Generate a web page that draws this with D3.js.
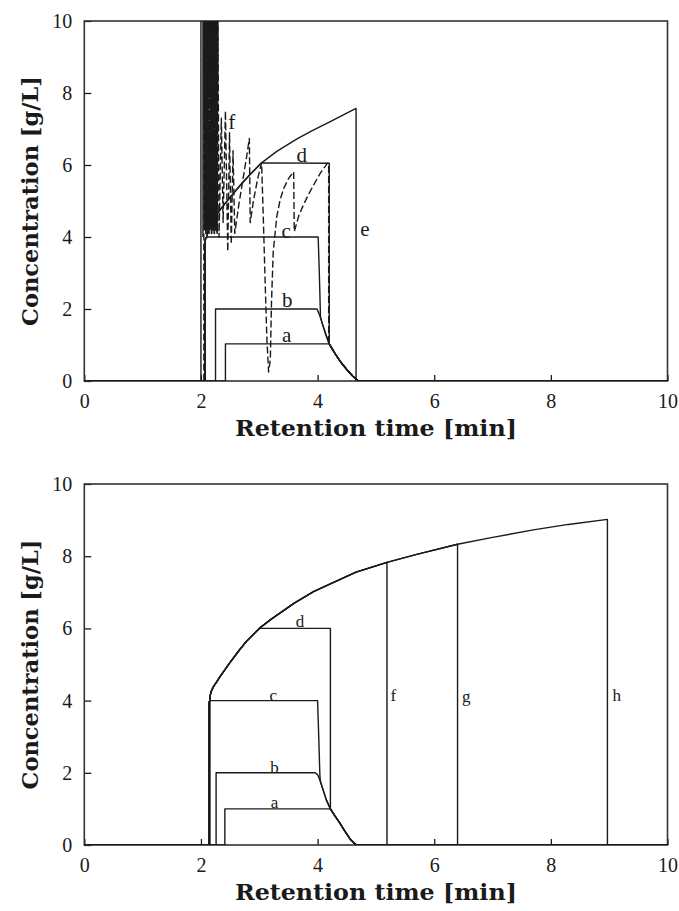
<!DOCTYPE html>
<html><head><meta charset="utf-8">
<script src="https://cdn.jsdelivr.net/npm/d3@7"></script>
<style>body{margin:0;background:#fff}svg{display:block}</style>
</head><body>
<svg id="chart" width="679" height="911"></svg>
<script>
// ---------- data (retention time [min], concentration [g/L]) ----------
const xTicks = [0, 2, 4, 6, 8, 10];
const yTicks = [0, 2, 4, 6, 8, 10];
const xTitle = "Retention time [min]";
const yTitle = "Concentration [g/L]";

// top panel
const topDecay = [[4.2,1.03],[4.3,0.76],[4.4,0.52],[4.5,0.32],[4.6,0.14],[4.70,0],[10,0]];
const topTail  = [[3.99,2.0],[4.03,1.85],[4.08,1.6],[4.14,1.3],[4.2,1.03]];
const topEnv   = [[2.1,4.0],[2.12,4.2],[2.16,4.33],[2.22,4.5],[2.33,4.76],[2.5,5.1],[2.67,5.43],[2.85,5.75],[3.04,6.06],[3.3,6.38],[3.64,6.72],[3.9,6.95],[4.21,7.2],[4.45,7.4],[4.66,7.57]];
const topRise  = [[0,0],[2.07,0],[2.07,3.85],[2.08,3.96]];
const topA = [[0,0],[2.42,0],[2.42,1.03],[4.2,1.03]];
const topB = [[0,0],[2.25,0],[2.25,2.0]];
const topC = [[2.1,4.0],[4.01,4.0],[4.03,3.0],[4.05,1.78],[4.08,1.6],[4.14,1.3],[4.2,1.03]];
const topD = [[4.2,6.05],[4.2,1.03]];
const topE = [[4.66,0],[10,0]];
const topSpike1 = [[2.0,0],[2.0,10.6]];
const topSpike2 = [[2.035,4.0],[2.035,10.6]];
const topSpikes = [[2.05,10.6],[2.062,4.2],[2.074,10.6],[2.086,4.1],[2.098,10.6],[2.11,4.2],[2.122,10.6],[2.134,4.1],[2.146,10.6],[2.158,4.2],[2.17,10.6],[2.182,4.1],[2.194,10.6],[2.206,4.2],[2.218,10.6],[2.23,4.1],[2.242,10.6],[2.254,4.2],[2.266,10.6],[2.278,4.1],[2.29,10.6]];
const topF = [[2.29,10.6],[2.31,4.0],[2.35,7.3],[2.38,4.4],[2.42,7.5],[2.46,3.6],[2.49,6.9],[2.52,3.8],[2.55,6.4],[2.58,4.1],[2.65,4.9],[2.72,5.6],[2.78,6.2],[2.83,6.74],[2.845,4.4],[2.9,5.0],[2.97,5.6],[3.04,6.06],[3.07,4.5],[3.1,2.8],[3.13,1.2],[3.16,0.25],[3.19,0.6],[3.21,2.2],[3.24,3.6],[3.3,4.56],[3.36,5.05],[3.42,5.35],[3.5,5.62],[3.59,5.81],[3.6,4.15],[3.68,4.6],[3.76,4.9],[3.85,5.2],[3.93,5.44],[4.05,5.78],[4.17,6.05],[4.19,6.05],[4.19,1.05]];
const topFStart = [[0,0],[2.05,0],[2.05,10.6]];
const topLabels = [["f",2.53,7.2],["d",3.73,6.28],["c",3.46,4.19],["b",3.48,2.25],["a",3.47,1.28],["e",4.81,4.24]];

// bottom panel
const botDecay = [[4.22,1.0],[4.3,0.8],[4.385,0.6],[4.47,0.38],[4.56,0.16],[4.62,0.06],[4.67,0],[10,0]];
const botTail  = [[3.96,2.0],[4.0,1.95],[4.05,1.75],[4.1,1.5],[4.15,1.25],[4.22,1.0]];
const botEnv   = [[2.15,4.0],[2.16,4.15],[2.18,4.27],[2.22,4.4],[2.27,4.52],[2.33,4.67],[2.4,4.83],[2.5,5.06],[2.65,5.38],[2.79,5.66],[3.0,6.0],[3.2,6.25],[3.36,6.43],[3.6,6.7],[3.93,7.02],[4.2,7.22],[4.5,7.44],[4.66,7.56],[5.19,7.83],[5.7,8.05],[6.4,8.33],[7.0,8.52],[7.7,8.73],[8.3,8.88],[8.97,9.02]];
const botRise  = [[0,0],[2.14,0],[2.14,3.95],[2.15,4.0]];
const botA = [[0,0],[2.41,0],[2.41,1.0],[4.22,1.0]];
const botB = [[0,0],[2.26,0],[2.26,2.0]];
const botC = [[0,0],[2.155,0],[2.155,4.0],[4.0,4.0],[4.02,3.0],[4.04,1.9]];
const botD = [[4.22,6.0],[4.22,1.0]];
const botEnds = [["f",5.19],["g",6.40],["h",8.97]];
const botLabels = [["d",3.70,6.19],["c",3.24,4.14],["b",3.26,2.15],["a",3.26,1.2],["f",5.30,4.15],["g",6.55,4.13],["h",9.13,4.15]];

// ---------- drawing ----------
const svg = d3.select("#chart");
const X0 = 84.3, X1 = 667.5;
const panels = [
  {top: 21, bottom: 381, labelSize: 21, titleY: 436},
  {top: 484, bottom: 845, labelSize: 17, titleY: 900}
];
const ink = "#1a1a1a";

function setupPanel(p, idx) {
  const x = d3.scaleLinear().domain([0, 10]).range([X0, X1]);
  const y = d3.scaleLinear().domain([0, 10]).range([p.bottom, p.top]);
  const g = svg.append("g");
  const clipId = "clip" + idx;
  svg.append("clipPath").attr("id", clipId).append("rect")
    .attr("x", X0).attr("y", p.top).attr("width", X1 - X0).attr("height", p.bottom - p.top);

  const xa = g.append("g").attr("transform", `translate(0,${p.bottom})`)
    .call(d3.axisBottom(x).tickValues(xTicks).tickSize(-6).tickPadding(13).tickFormat(d3.format("d")));
  const ya = g.append("g").attr("transform", `translate(${X0},0)`)
    .call(d3.axisLeft(y).tickValues(yTicks).tickSize(-7).tickPadding(12).tickFormat(d3.format("d")));
  [xa, ya].forEach(a => {
    a.select(".domain").remove();
    a.selectAll("line").attr("stroke", ink).attr("stroke-width", 1.3);
    a.selectAll("text").attr("font-family", "'Liberation Serif', serif").attr("font-size", 20).attr("fill", ink);
  });

  g.append("rect").attr("x", X0).attr("y", p.top).attr("width", X1 - X0).attr("height", p.bottom - p.top)
    .attr("fill", "none").attr("stroke", "#333").attr("stroke-width", 1.6);

  g.append("text").attr("x", (X0 + X1) / 2).attr("y", p.titleY).attr("text-anchor", "middle")
    .attr("font-family", "'DejaVu Serif', serif").attr("font-weight", "bold").attr("font-size", 23)
    .attr("textLength", 282).attr("lengthAdjust", "spacingAndGlyphs").attr("fill", ink).text(xTitle);
  const cy = (p.top + p.bottom) / 2;
  g.append("text").attr("transform", `translate(38,${cy}) rotate(-90)`).attr("text-anchor", "middle")
    .attr("font-family", "'DejaVu Serif', serif").attr("font-weight", "bold").attr("font-size", 23)
    .attr("textLength", 250).attr("lengthAdjust", "spacingAndGlyphs").attr("fill", ink).text(yTitle);

  const line = d3.line().x(d => x(d[0])).y(d => y(d[1]));
  const curves = g.append("g").attr("clip-path", `url(#${clipId})`);
  const draw = (pts, dash, w) => curves.append("path").attr("d", line(pts)).attr("fill", "none")
    .attr("stroke", ink).attr("stroke-width", w || 1.4).attr("stroke-linejoin", "round")
    .attr("stroke-dasharray", dash || null);
  const label = (lab) => g.append("text").attr("x", x(lab[1])).attr("y", y(lab[2])).attr("dy", "0.35em")
    .attr("text-anchor", "middle").attr("font-family", "'Liberation Serif', serif")
    .attr("font-size", p.labelSize).attr("fill", ink).text(lab[0]);
  return {x, y, draw, label};
}

// top panel
{
  const P = setupPanel(panels[0], 0);
  const envUpTo = t => topEnv.filter(d => d[0] <= t);
  P.draw(topA.concat(topDecay));
  P.draw(topB.concat(topTail, topDecay));
  P.draw(topRise.concat(topC, topDecay));
  P.draw(topRise.concat(envUpTo(3.04), topD, topDecay));
  P.draw(topRise.concat(topEnv, topE));
  P.draw(topSpike1);
  P.draw(topSpike2);
  P.draw(topSpikes, "9,2", 1.6);
  P.draw(topFStart.concat(topSpikes, topF, topDecay), "7,3");
  topLabels.forEach(P.label);
}
// bottom panel
{
  const P = setupPanel(panels[1], 1);
  const envUpTo = t => botEnv.filter(d => d[0] <= t);
  P.draw(botA.concat(botDecay));
  P.draw(botB.concat(botTail, botDecay));
  P.draw(botC.concat(botTail.slice(2), botDecay));
  P.draw(botRise.concat(envUpTo(3.0), botD, botDecay));
  botEnds.forEach(e => P.draw(botRise.concat(envUpTo(e[1]), [[e[1], 0], [10, 0]])));
  botLabels.forEach(P.label);
}
</script>
</body></html>
